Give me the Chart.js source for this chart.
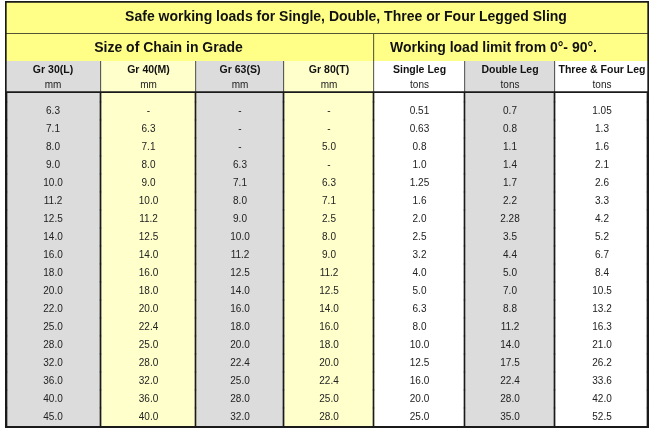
<!DOCTYPE html>
<html>
<head>
<meta charset="utf-8">
<script src="https://cdn.jsdelivr.net/npm/chart.js@4/dist/chart.umd.min.js"></script>
<style>
  body { margin: 0; background: #fff; }
  #wrap { position: relative; width: 653px; height: 433px; }
  .part { position: absolute; left: 5px; width: 644px; }
  #titleRow { top: 1px; height: 33px; }
  #groupRow { top: 34px; height: 27px; }
  #headRow { top: 61px; height: 32px; }
  #body { top: 93px; height: 333px; }
  #bottomRule { top: 426px; height: 2px; }
</style>
</head>
<body>
<div id="wrap">
  <div class="part" id="titleRow"><canvas id="titleChart"></canvas></div>
  <div class="part" id="groupRow"><canvas id="groupChart"></canvas></div>
  <div class="part" id="headRow"><canvas id="headChart"></canvas></div>
  <div class="part" id="body"><canvas id="bodyChart"></canvas></div>
  <div class="part" id="bottomRule"><canvas id="ruleChart"></canvas></div>
</div>
<script>
// table text
const title = 'Safe working loads for Single, Double, Three or Four Legged Sling';
const groups = ['Size of Chain in Grade', 'Working load limit from 0°- 90°.'];
const columns = ['Gr 30(L)', 'Gr 40(M)', 'Gr 63(S)', 'Gr 80(T)', 'Single Leg', 'Double Leg', 'Three & Four Leg'];
const units = ['mm', 'mm', 'mm', 'mm', 'tons', 'tons', 'tons'];

// values, one array per column
const gr30 = ['6.3', '7.1', '8.0', '9.0', '10.0', '11.2', '12.5', '14.0', '16.0', '18.0', '20.0', '22.0', '25.0', '28.0', '32.0', '36.0', '40.0', '45.0'];
const gr40 = ['-', '6.3', '7.1', '8.0', '9.0', '10.0', '11.2', '12.5', '14.0', '16.0', '18.0', '20.0', '22.4', '25.0', '28.0', '32.0', '36.0', '40.0'];
const gr63 = ['-', '-', '-', '6.3', '7.1', '8.0', '9.0', '10.0', '11.2', '12.5', '14.0', '16.0', '18.0', '20.0', '22.4', '25.0', '28.0', '32.0'];
const gr80 = ['-', '-', '5.0', '-', '6.3', '7.1', '2.5', '8.0', '9.0', '11.2', '12.5', '14.0', '16.0', '18.0', '20.0', '22.4', '25.0', '28.0'];
const singleLeg = ['0.51', '0.63', '0.8', '1.0', '1.25', '1.6', '2.0', '2.5', '3.2', '4.0', '5.0', '6.3', '8.0', '10.0', '12.5', '16.0', '20.0', '25.0'];
const doubleLeg = ['0.7', '0.8', '1.1', '1.4', '1.7', '2.2', '2.28', '3.5', '4.4', '5.0', '7.0', '8.8', '11.2', '14.0', '17.5', '22.4', '28.0', '35.0'];
const fourLeg = ['1.05', '1.3', '1.6', '2.1', '2.6', '3.3', '4.2', '5.2', '6.7', '8.4', '10.5', '13.2', '16.3', '21.0', '26.2', '33.6', '42.0', '52.5'];
const table = [gr30, gr40, gr63, gr80, singleLeg, doubleLeg, fourLeg];

// layout / style
const colWidths = [96, 95, 88, 90, 91, 90, 94];
const edges = colWidths.reduce((a, w) => a.concat(a[a.length - 1] + w), [0]);
const total = edges[edges.length - 1];
const GRAY = '#dcdcdc', LIGHT = '#ffffcc', WHITE = '#ffffff', TITLE = '#ffff88', LINE = '#1a1a1a';
const colColors = [GRAY, LIGHT, GRAY, LIGHT, WHITE, GRAY, WHITE];
const FONT = '"Liberation Sans", Arial, sans-serif';

// draws the text of each cell in the middle of its bar
const cellText = {
  id: 'cellText',
  afterDatasetsDraw(chart) {
    const ctx = chart.ctx;
    chart.data.datasets.forEach((ds, i) => {
      if (!ds.labels) return;
      chart.getDatasetMeta(i).data.forEach((bar, j) => {
        const lab = ds.labels[j];
        if (!lab) return;
        const c = bar.getCenterPoint();
        ctx.save();
        ctx.textAlign = 'center';
        ctx.textBaseline = 'middle';
        lab.forEach(l => {
          ctx.font = l.font;
          ctx.fillStyle = l.color || '#111';
          ctx.fillText(l.text, c.x + (l.dx || 0), c.y + (l.dy || 0));
        });
        ctx.restore();
      });
    });
  }
};

function frame(left, right, top, bottom) {
  return { top: top, right: right, bottom: bottom, left: left };
}

// every part of the table is a floating horizontal bar chart on the same x scale
function makePart(id, datasets, yScale) {
  return new Chart(document.getElementById(id), {
    type: 'bar',
    data: { datasets: datasets },
    plugins: [cellText],
    options: {
      indexAxis: 'y',
      responsive: true,
      maintainAspectRatio: false,
      animation: false,
      events: [],
      layout: { padding: 0 },
      datasets: { bar: { grouped: false, barPercentage: 1, categoryPercentage: 1, borderSkipped: false } },
      plugins: { legend: { display: false }, tooltip: { enabled: false } },
      scales: {
        x: { type: 'linear', min: 0, max: total, display: false },
        y: Object.assign({ display: false }, yScale)
      }
    }
  });
}

// title row
makePart('titleChart', [{
  data: [{ y: 'title', x: [0, total] }],
  backgroundColor: TITLE,
  borderColor: LINE,
  borderWidth: frame(2, 2, 2, 1),
  labels: [[{ text: title, font: 'bold 14px ' + FONT, dx: 19, dy: 0 }]]
}], { type: 'category', labels: ['title'] });

// group row
const groupSpan = [[0, edges[4]], [edges[4], total]];
const groupShift = [-21, -18];
makePart('groupChart', groups.map((g, k) => ({
  data: [{ y: 'group', x: groupSpan[k] }],
  backgroundColor: TITLE,
  borderColor: LINE,
  borderWidth: frame(k === 0 ? 2 : 0, k === 0 ? 1 : 2, 0, 0),
  labels: [[{ text: g, font: 'bold 14px ' + FONT, dx: groupShift[k], dy: 1 }]]
})), { type: 'category', labels: ['group'] });

// column heads
makePart('headChart', columns.map((name, c) => ({
  data: [{ y: 'head', x: [edges[c], edges[c + 1]] }],
  backgroundColor: colColors[c],
  borderColor: LINE,
  borderWidth: frame(c === 0 ? 2 : 0, c === 6 ? 2 : 1, 0, 2),
  labels: [[
    { text: name, font: 'bold 10.5px ' + FONT, dy: -7 },
    { text: units[c], font: '10px ' + FONT, color: '#222', dy: 8 }
  ]]
})), { type: 'category', labels: ['head'] });

// body: one dataset per column, one bar per row (row -1 is the padding above the first row)
const rowIdx = gr30.map((v, r) => r);
const lastRow = rowIdx.length - 1;
const bodyRows = [-1].concat(rowIdx);
const cellSets = table.map((vals, c) => ({
  data: bodyRows.map(r => ({ y: r, x: [edges[c], edges[c + 1]] })),
  backgroundColor: colColors[c],
  borderWidth: 0,
  labels: [null].concat(vals.map(v => [{ text: v, font: '10px ' + FONT, color: '#222' }]))
}));
// column rules drawn as thin bars on the left side of each edge (outer ones 2 wide);
// chart.js paints the first dataset last, so these go first to sit on top of the cells
const ruleSets = edges.map((e, k) => {
  const span = k === 0 ? [0, 2] : (k === edges.length - 1 ? [total - 2, total] : [e - 1, e]);
  return {
    data: bodyRows.map(r => ({ y: r, x: span })),
    backgroundColor: LINE,
    borderWidth: 0
  };
});
makePart('bodyChart', ruleSets.concat(cellSets), {
  type: 'linear', reverse: true, offset: false, bounds: 'data', min: -1, max: lastRow + 0.5,
  afterBuildTicks: s => { s.ticks = bodyRows.map(v => ({ value: v })); }
});

// closing rule under the last row
makePart('ruleChart', [{
  data: [{ y: 'rule', x: [0, total] }],
  backgroundColor: LINE,
  borderWidth: 0
}], { type: 'category', labels: ['rule'] });
</script>
</body>
</html>
